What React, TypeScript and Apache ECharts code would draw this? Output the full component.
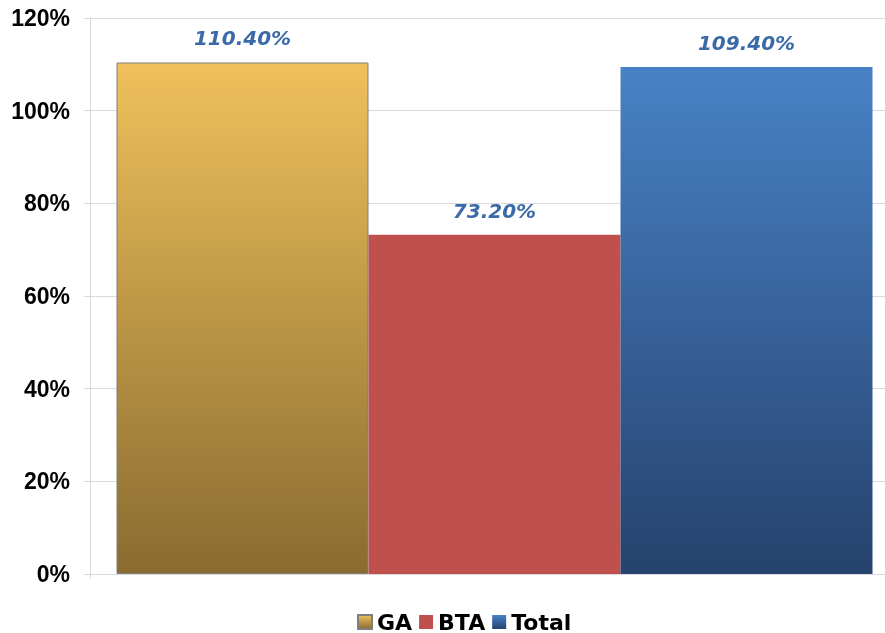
import React, { useEffect, useRef } from "react";
import * as echarts from "echarts";

const seriesNames = ["GA", "BTA", "Total"];
const seriesValues = [110.4, 73.2, 109.4];
const yTicks = [0, 20, 40, 60, 80, 100, 120];

export default function App() {
  const ref = useRef<HTMLDivElement>(null);
  useEffect(() => {
    if (!ref.current) return;
    const chart = echarts.init(ref.current, undefined, { renderer: "svg" });
    const colors = [
      new echarts.graphic.LinearGradient(0, 0, 0, 1, [
        { offset: 0, color: "#EFC05B" },
        { offset: 1, color: "#8A6C31" },
      ]),
      "#C0504D",
      new echarts.graphic.LinearGradient(0, 0, 0, 1, [
        { offset: 0, color: "#4882C6" },
        { offset: 1, color: "#26426D" },
      ]),
    ];
    const borders = ["#7F7F7F", "#C0504D", "#4882C6"];
    chart.setOption({
      animation: false,
      grid: {
        left: 90,
        top: 18,
        right: -14,
        bottom: 59,
        containLabel: false,
        outerBoundsMode: "none",
      },
      legend: {
        left: 352,
        top: 606,
        icon: "rect",
        itemWidth: 14,
        itemHeight: 14,
        itemGap: 7,
        data: seriesNames,
        textStyle: {
          fontFamily: "DejaVu Sans",
          fontWeight: "bold",
          fontSize: 22,
          color: "#000",
        },
      },
      xAxis: {
        type: "category",
        data: [""],
        axisLine: { show: true, lineStyle: { color: "#D9D9D9" } },
        axisTick: { show: true, length: 5, lineStyle: { color: "#D9D9D9" } },
        axisLabel: { show: false },
      },
      yAxis: {
        type: "value",
        min: yTicks[0],
        max: yTicks[yTicks.length - 1],
        interval: 20,
        axisLine: { show: true, lineStyle: { color: "#D9D9D9" } },
        axisTick: { show: true, length: 6, lineStyle: { color: "#D9D9D9" } },
        splitLine: { show: true, lineStyle: { color: "#D9D9D9" } },
        axisLabel: {
          formatter: (v: number) => `${v}%`,
          fontFamily: "Liberation Sans",
          fontWeight: "bold",
          fontSize: 23,
          color: "#000",
          margin: 20,
        },
      },
      series: seriesNames.map((name, i) => ({
        name,
        type: "bar",
        data: [seriesValues[i]],
        barWidth: 252,
        barGap: "0%",
        itemStyle: {
          color: colors[i],
          borderColor: borders[i],
          borderWidth: i === 0 ? 1 : 0,
        },
        label: {
          show: true,
          position: "top",
          distance: 14,
          formatter: (p: any) => `${Number(p.value).toFixed(2)}%`,
          fontFamily: "DejaVu Sans",
          fontStyle: "italic",
          fontWeight: "bold",
          fontSize: 20,
          color: "#3A6BA8",
        },
      })),
    });
    return () => chart.dispose();
  }, []);
  return (
    <div
      ref={ref}
      style={{ position: "fixed", left: 0, top: 0, width: 885, height: 633 }}
    />
  );
}
